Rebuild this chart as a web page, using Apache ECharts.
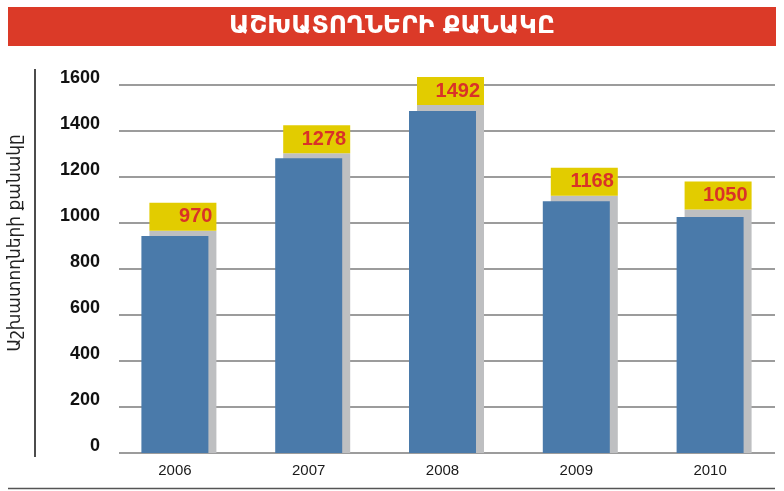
<!DOCTYPE html>
<html>
<head>
<meta charset="utf-8">
<script src="https://cdn.jsdelivr.net/npm/echarts@6/dist/echarts.min.js"></script>
<style>html,body{margin:0;padding:0;background:#fff}#c{width:784px;height:491px}</style>
</head>
<body>
<div id="c"></div>
<script>
// Data
const categories = ['2006', '2007', '2008', '2009', '2010'];
const employeeLabels = [970, 1278, 1492, 1168, 1050];   // printed values
const frontBars = [943, 1281, 1487, 1095, 1026];        // blue bar heights as drawn
const backBars = [966, 1303, 1513, 1118, 1059];         // grey shadow heights as drawn
const yTicks = { min: 0, max: 1600, interval: 200 };
const titleText = 'ԱՇԽԱՏՈՂՆԵՐԻ ՔԱՆԱԿԸ';
const yName = 'Աշխատողների քանակը';

const chart = echarts.init(document.getElementById('c'), null, { renderer: 'canvas' });
const gridTop = 85, gridBottom = 38;
const hiddenY = (i) => ({ gridIndex: i, type: 'value', min: yTicks.min, max: yTicks.max, interval: yTicks.interval, show: false });

chart.setOption({
  animation: false,
  backgroundColor: '#ffffff',
  title: {
    text: titleText,
    left: 'center',
    top: 9,
    padding: 0,
    textStyle: { color: '#ffffff', fontSize: 25, fontWeight: 'bold', fontFamily: 'DejaVu Sans', lineHeight: 34 }
  },
  graphic: [
    { type: 'rect', z: -1, shape: { x: 8, y: 7, width: 768, height: 39 }, style: { fill: '#db3a28' } },
    { type: 'line', shape: { x1: 35, y1: 69, x2: 35, y2: 457 }, style: { stroke: '#111', lineWidth: 1.5 } },
    { type: 'line', shape: { x1: 8, y1: 488.5, x2: 775, y2: 488.5 }, style: { stroke: '#555', lineWidth: 1.5 } }
  ],
  grid: [
    { left: 119, right: 9, top: gridTop, bottom: gridBottom, containLabel: false, outerBoundsMode: 'none' },
    { left: 108, right: 7, top: gridTop, bottom: gridBottom, containLabel: false, outerBoundsMode: 'none' },
    { left: 116, right: -1, top: gridTop, bottom: gridBottom, containLabel: false, outerBoundsMode: 'none' }
  ],
  xAxis: [
    { gridIndex: 0, type: 'category', data: categories, show: false },
    {
      gridIndex: 1, type: 'category', data: categories,
      axisLine: { show: false }, axisTick: { show: false },
      axisLabel: { margin: 10, fontSize: 15, color: '#1a1a1a', fontFamily: 'Liberation Sans' }
    },
    { gridIndex: 2, type: 'category', data: categories, show: false }
  ],
  yAxis: [
    {
      gridIndex: 0, type: 'value', min: yTicks.min, max: yTicks.max, interval: yTicks.interval,
      axisLine: { show: false }, axisTick: { show: false },
      axisLabel: {
        margin: 19, fontSize: 18, fontWeight: 'bold', color: '#111', fontFamily: 'Liberation Sans',
        verticalAlign: 'bottom', lineHeight: 14, formatter: (v) => String(v)
      },
      splitLine: { lineStyle: { color: '#9c9c9c', width: 2 } },
      name: yName, nameLocation: 'middle', nameRotate: 90, nameGap: 95,
      nameTextStyle: { fontSize: 17, color: '#222', fontFamily: 'DejaVu Sans', padding: [0, 0, 0, 52] }
    },
    hiddenY(1),
    hiddenY(2)
  ],
  series: [
    {
      type: 'bar', xAxisIndex: 2, yAxisIndex: 2, data: backBars, barWidth: 67, z: 2,
      itemStyle: { color: '#bebfc1' },
      label: {
        show: true, position: 'top', distance: 0,
        formatter: (p) => '{v|' + employeeLabels[p.dataIndex] + '}',
        rich: {
          v: {
            width: 63, height: 28, lineHeight: 28, align: 'right', padding: [0, 4, 0, 0],
            backgroundColor: '#e2cc00', color: '#d93228', fontSize: 20, fontWeight: 'bold',
            fontFamily: 'Liberation Sans'
          }
        }
      }
    },
    {
      type: 'bar', xAxisIndex: 1, yAxisIndex: 1, data: frontBars, barWidth: 67, z: 3,
      itemStyle: { color: '#4a7aaa' }
    }
  ]
});
</script>
</body>
</html>
